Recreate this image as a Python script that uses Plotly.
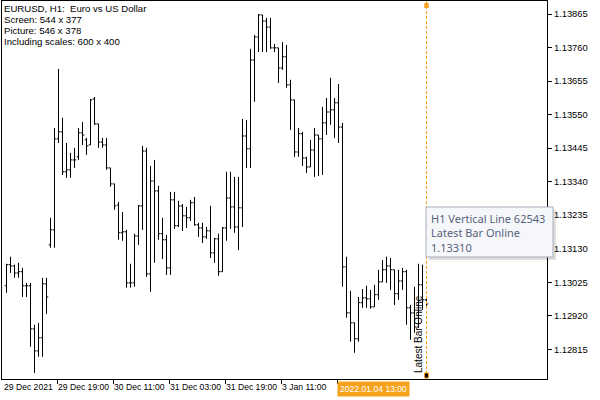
import plotly.graph_objects as go

# ---------------- data (EURUSD H1 bars) ----------------
bar_open = [1.13014, 1.13080, 1.13076, 1.13054, 1.13058, 1.13014, 1.13014, 1.12879, 1.12810, 1.12851,
            1.13020, 1.13142, 1.13189, 1.13474, 1.13496, 1.13371, 1.13377, 1.13408, 1.13418, 1.13493,
            1.13471, 1.13455, 1.13599, 1.13521, 1.13464, 1.13455, 1.13383, 1.13333, 1.13267, 1.13180,
            1.13183, 1.13023, 1.13023, 1.13170, 1.13264, 1.13436, 1.13051, 1.13342, 1.13311, 1.13177,
            1.13158, 1.13070, 1.13283, 1.13202, 1.13264, 1.13233, 1.13227, 1.13274, 1.13205, 1.13195,
            1.13167, 1.13186, 1.13117, 1.13161, 1.13058, 1.13195, 1.13289, 1.13261, 1.13198, 1.13258,
            1.13483, 1.13443, 1.13721, 1.13793, 1.13862, 1.13843, 1.13824, 1.13759, 1.13759, 1.13696,
            1.13731, 1.13643, 1.13596, 1.13433, 1.13490, 1.13414, 1.13386, 1.13439, 1.13486, 1.13474,
            1.13524, 1.13558, 1.13565, 1.13587, 1.13511, 1.13073, 1.12929, 1.12898, 1.12848, 1.12961,
            1.12976, 1.12973, 1.12948, 1.12986, 1.13026, 1.13064, 1.13076, 1.13064, 1.12989, 1.13029,
            1.13058, 1.12945, 1.12929, 1.12885, 1.13017, 1.12970]
bar_high = [1.13083, 1.13105, 1.13080, 1.13086, 1.13070, 1.13023, 1.13023, 1.12892, 1.12898, 1.13039,
            1.13039, 1.13227, 1.13508, 1.13693, 1.13540, 1.13461, 1.13430, 1.13446, 1.13508, 1.13527,
            1.13477, 1.13599, 1.13605, 1.13521, 1.13477, 1.13477, 1.13383, 1.13333, 1.13277, 1.13245,
            1.13189, 1.13083, 1.13177, 1.13267, 1.13452, 1.13446, 1.13389, 1.13408, 1.13327, 1.13227,
            1.13173, 1.13308, 1.13308, 1.13280, 1.13270, 1.13261, 1.13283, 1.13292, 1.13211, 1.13211,
            1.13198, 1.13264, 1.13164, 1.13177, 1.13198, 1.13371, 1.13371, 1.13355, 1.13355, 1.13536,
            1.13533, 1.13756, 1.13799, 1.13865, 1.13862, 1.13853, 1.13853, 1.13771, 1.13759, 1.13777,
            1.13768, 1.13659, 1.13596, 1.13508, 1.13496, 1.13418, 1.13471, 1.13508, 1.13486, 1.13574,
            1.13602, 1.13665, 1.13602, 1.13646, 1.13524, 1.13105, 1.12998, 1.12898, 1.12979, 1.13004,
            1.13014, 1.13001, 1.13017, 1.13064, 1.13095, 1.13105, 1.13101, 1.13064, 1.13064, 1.13070,
            1.13064, 1.12954, 1.13011, 1.13083, 1.13080, 1.12973]
bar_low = [1.12992, 1.13054, 1.13039, 1.13039, 1.12979, 1.12979, 1.12823, 1.12741, 1.12792, 1.12792,
           1.12926, 1.13133, 1.13133, 1.13461, 1.13361, 1.13352, 1.13352, 1.13383, 1.13408, 1.13455,
           1.13424, 1.13455, 1.13518, 1.13446, 1.13446, 1.13377, 1.13324, 1.13252, 1.13158, 1.13155,
           1.13008, 1.13008, 1.13011, 1.13142, 1.13189, 1.13042, 1.12995, 1.13086, 1.13158, 1.13098,
           1.13048, 1.13048, 1.13192, 1.13198, 1.13186, 1.13195, 1.13217, 1.13202, 1.13167, 1.13148,
           1.13161, 1.13101, 1.13086, 1.13045, 1.13058, 1.13155, 1.13192, 1.13180, 1.13126, 1.13198,
           1.13383, 1.13383, 1.13590, 1.13746, 1.13746, 1.13746, 1.13756, 1.13746, 1.13649, 1.13690,
           1.13634, 1.13502, 1.13418, 1.13418, 1.13389, 1.13367, 1.13386, 1.13355, 1.13358, 1.13361,
           1.13486, 1.13518, 1.13477, 1.13461, 1.13011, 1.12914, 1.12839, 1.12804, 1.12839, 1.12945,
           1.12945, 1.12942, 1.12948, 1.12970, 1.13026, 1.13023, 1.13001, 1.12954, 1.12970, 1.13001,
           1.12892, 1.12845, 1.12867, 1.12882, 1.12939, 1.12951]
bar_close = [1.13080, 1.13076, 1.13054, 1.13058, 1.13014, 1.13014, 1.12879, 1.12810, 1.12851, 1.13020,
             1.12979, 1.13189, 1.13474, 1.13496, 1.13371, 1.13377, 1.13408, 1.13408, 1.13493, 1.13486,
             1.13452, 1.13596, 1.13521, 1.13464, 1.13455, 1.13383, 1.13333, 1.13264, 1.13180, 1.13183,
             1.13023, 1.13023, 1.13170, 1.13264, 1.13436, 1.13051, 1.13342, 1.13311, 1.13177, 1.13158,
             1.13070, 1.13283, 1.13202, 1.13264, 1.13233, 1.13227, 1.13274, 1.13205, 1.13195, 1.13167,
             1.13186, 1.13117, 1.13161, 1.13058, 1.13195, 1.13289, 1.13261, 1.13198, 1.13258, 1.13483,
             1.13443, 1.13721, 1.13793, 1.13862, 1.13843, 1.13824, 1.13759, 1.13759, 1.13696, 1.13731,
             1.13643, 1.13596, 1.13433, 1.13490, 1.13414, 1.13386, 1.13439, 1.13486, 1.13474, 1.13524,
             1.13558, 1.13565, 1.13587, 1.13511, 1.13073, 1.12929, 1.12898, 1.12848, 1.12961, 1.12976,
             1.12973, 1.12948, 1.12986, 1.13026, 1.13064, 1.13076, 1.13064, 1.12989, 1.13029, 1.13058,
             1.12945, 1.12929, 1.12885, 1.13017, 1.12970, 1.12957]
bar_index = list(range(len(bar_open)))

price_ticks = [1.12815, 1.12920, 1.13025, 1.13130, 1.13235, 1.13340,
               1.13445, 1.13550, 1.13655, 1.13760, 1.13865]
price_tick_text = ["1.12815", "1.12920", "1.13025", "1.13130", "1.13235", "1.13340",
                   "1.13445", "1.13550", "1.13655", "1.13760", "1.13865"]

time_tick_pos = [-1.0, 12.65, 26.65, 40.65, 54.65, 68.65]
time_tick_text = ["29 Dec 2021", "29 Dec 19:00", "30 Dec 11:00",
                  "31 Dec 03:00", "31 Dec 19:00", "3 Jan 11:00"]

vline_bar = 105
vline_tick_pos = 82.65
vline_time_text = "2022.01.04 13:00"
vline_name = "Latest Bar Online"
tooltip_lines = ["H1 Vertical Line 62543", "Latest Bar Online", "1.13310"]
info_lines = ["EURUSD, H1: \u00a0Euro vs US Dollar", "Screen: 544 x 377",
              "Picture: 546 x 378", "Including scales: 600 x 400"]

# ---------------- layout helpers ----------------
PL, PR, PT, PB = 2, 547, 1, 379   # plot area in pixels
X_RANGE = [-1.125, 135.125]
Y_RANGE = [1.12722, 1.139057]
def pxx(x):
    return (x - PL) / (PR - PL)
def pxy(y):
    return (PB - y) / (PB - PT)
def bar2paper(b):
    return (b - X_RANGE[0]) / (X_RANGE[1] - X_RANGE[0])

ORANGE = "#F7A21B"
TXTFONT = "Liberation Sans, Arial, sans-serif"

fig = go.Figure()
fig.add_trace(go.Ohlc(
    x=bar_index, open=bar_open, high=bar_high, low=bar_low, close=bar_close,
    increasing=dict(line=dict(color="black", width=1)),
    decreasing=dict(line=dict(color="black", width=1)),
    tickwidth=0.45, hoverinfo="skip", showlegend=False,
))

shapes = []
annotations = []

# vertical line
shapes.append(dict(type="line", xref="x", yref="paper", x0=vline_bar, x1=vline_bar,
                   y0=0, y1=1, line=dict(color=ORANGE, width=1, dash="3px,2px")))
# anchor squares on the line
shapes.append(dict(type="rect", xref="x", yref="paper",
                   x0=vline_bar - 0.55, x1=vline_bar + 0.55, y0=pxy(8), y1=pxy(3),
                   fillcolor=ORANGE, line=dict(width=0)))
shapes.append(dict(type="rect", xref="x", yref="paper",
                   x0=vline_bar - 0.5, x1=vline_bar + 0.5, y0=pxy(378), y1=pxy(373),
                   fillcolor="black", line=dict(color=ORANGE, width=1)))

# tooltip box (shadow + box)
shapes.append(dict(type="rect", xref="paper", yref="paper",
                   x0=pxx(429), x1=pxx(556), y0=pxy(260), y1=pxy(210),
                   fillcolor="rgba(0,0,0,0.13)", line=dict(width=0)))
shapes.append(dict(type="rect", xref="paper", yref="paper",
                   x0=pxx(426), x1=pxx(553), y0=pxy(257), y1=pxy(207),
                   fillcolor="#F6F7FB", line=dict(color="#A7ADB8", width=1)))
annotations.append(dict(xref="paper", yref="paper", x=pxx(429), y=pxy(209),
                        xanchor="left", yanchor="top", align="left", showarrow=False,
                        text="<br>".join(tooltip_lines),
                        font=dict(family="Noto Sans, Open Sans, sans-serif", size=11, color="#56627A")))

# rotated line name
annotations.append(dict(xref="x", yref="paper", x=vline_bar, y=0, xanchor="right",
                        yanchor="bottom", xshift=-1, yshift=4, textangle=-90, showarrow=False,
                        text=vline_name, font=dict(family=TXTFONT, size=10, color="black")))

# time labels (left aligned at their ticks)
for pos, txt in zip(time_tick_pos, time_tick_text):
    annotations.append(dict(xref="paper", yref="paper", x=bar2paper(pos), y=0,
                            xanchor="left", yanchor="top",
                            xshift=-1, yshift=-1, showarrow=False, text=txt,
                            font=dict(family=TXTFONT, size=8.6, color="black")))
annotations.append(dict(xref="paper", yref="paper", x=bar2paper(vline_tick_pos), y=0,
                        xanchor="left", yanchor="top", xshift=0, yshift=-2, showarrow=False,
                        text=vline_time_text, bgcolor=ORANGE, borderpad=2,
                        font=dict(family=TXTFONT, size=8.6, color="white")))

# info text, top-left
for k, line in enumerate(info_lines):
    annotations.append(dict(xref="paper", yref="paper", x=pxx(3), y=pxy(8.5 + 11 * k),
                            xanchor="left", yanchor="middle", showarrow=False, text=line,
                            borderpad=0, font=dict(family=TXTFONT, size=9.6, color="black")))

fig.update_layout(
    width=600, height=400,
    margin=dict(l=PL, r=600 - PR, t=PT, b=400 - PB),
    paper_bgcolor="white", plot_bgcolor="white",
    shapes=shapes, annotations=annotations,
    xaxis=dict(range=X_RANGE, tickmode="array",
               tickvals=time_tick_pos[1:] + [vline_tick_pos],
               showticklabels=False, ticks="outside", ticklen=4, tickcolor="black",
               showgrid=False, zeroline=False, showline=True, mirror=True,
               linecolor="black", linewidth=1, rangeslider=dict(visible=False), fixedrange=True),
    yaxis=dict(range=Y_RANGE, side="right", tickmode="array",
               tickvals=price_ticks, ticktext=price_tick_text, tickformat=".5f",
               ticks="outside", ticklen=4, tickcolor="black",
               tickfont=dict(family=TXTFONT, size=9.4, color="black"),
               showgrid=False, zeroline=False, showline=True, mirror=True,
               linecolor="black", linewidth=1, fixedrange=True),
)

fig.write_html("out.html", config={"displayModeBar": False, "staticPlot": True},
               post_script="document.body.style.margin='0px';")
